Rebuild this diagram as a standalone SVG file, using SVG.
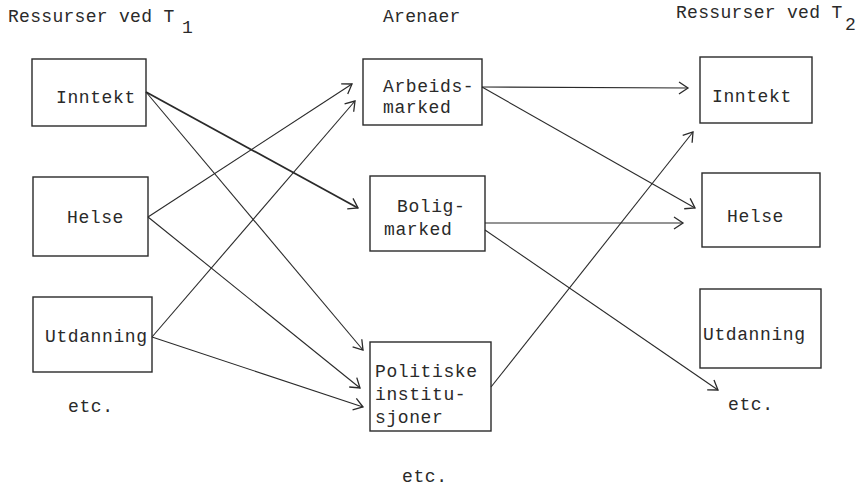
<svg xmlns="http://www.w3.org/2000/svg" width="857" height="486" viewBox="0 0 857 486">
<defs>
<style>
text{font-family:"Liberation Mono","DejaVu Sans Mono",monospace;font-size:18px;fill:#2a2a2a;letter-spacing:0.6px}
.hd{letter-spacing:0.3px}
.box{fill:none;stroke:#2a2a2a;stroke-width:1.4}
.c{fill:none;stroke:#2a2a2a;stroke-width:1.1}
.thick{stroke-width:1.8}
</style>
<marker id="ah" markerUnits="userSpaceOnUse" markerWidth="14" markerHeight="14" refX="0" refY="0" viewBox="-12 -7 14 14" orient="auto" overflow="visible">
<path d="M-9,-6 Q-3,-2 0,0 Q-3,2 -9,6" fill="none" stroke="#2a2a2a" stroke-width="1.3"/>
</marker>
</defs>
<rect width="857" height="486" fill="#ffffff"/>
<g id="headers">
<text class="hd" x="8" y="22">Ressurser ved T</text>
<text x="182" y="33">1</text>
<text class="hd" x="383" y="22">Arenaer</text>
<text class="hd" x="676" y="18">Ressurser ved T</text>
<text x="845" y="30">2</text>
</g>
<g id="connectors">
<line class="c thick" x1="146" y1="92" x2="358" y2="208" marker-end="url(#ah)"/>
<line class="c" x1="146" y1="92" x2="363" y2="350" marker-end="url(#ah)"/>
<line class="c" x1="148" y1="217" x2="352" y2="84" marker-end="url(#ah)"/>
<line class="c" x1="148" y1="217" x2="360" y2="388" marker-end="url(#ah)"/>
<line class="c" x1="152" y1="337" x2="355" y2="101" marker-end="url(#ah)"/>
<line class="c" x1="152" y1="337" x2="363" y2="407" marker-end="url(#ah)"/>
<line class="c" x1="482" y1="87" x2="688" y2="88" marker-end="url(#ah)"/>
<line class="c" x1="482" y1="87" x2="695" y2="208" marker-end="url(#ah)"/>
<line class="c" x1="485" y1="223" x2="683" y2="223" marker-end="url(#ah)"/>
<line class="c" x1="485" y1="230" x2="718" y2="390" marker-end="url(#ah)"/>
<line class="c" x1="491" y1="387" x2="693" y2="132" marker-end="url(#ah)"/>
</g>
<g id="l-inntekt">
<rect class="box" x="32" y="59" width="114" height="67"/>
<text x="56" y="103">Inntekt</text>
</g>
<g id="l-helse">
<rect class="box" x="33" y="177" width="115" height="79"/>
<text x="67" y="223">Helse</text>
</g>
<g id="l-utdanning">
<rect class="box" x="33" y="297" width="119" height="75"/>
<text x="45" y="342">Utdanning</text>
</g>
<g id="l-etc">
<text x="68" y="412">etc.</text>
</g>
<g id="arbeidsmarked">
<rect class="box" x="363" y="59" width="119" height="66"/>
<text x="383" y="92">Arbeids-</text>
<text x="383" y="113">marked</text>
</g>
<g id="boligmarked">
<rect class="box" x="370" y="176" width="115" height="75"/>
<text x="397" y="212">Bolig-</text>
<text x="384" y="235">marked</text>
</g>
<g id="politiske">
<rect class="box" x="370" y="342" width="121" height="89"/>
<text x="375" y="377">Politiske</text>
<text x="375" y="400">institu-</text>
<text x="375" y="423">sjoner</text>
</g>
<g id="m-etc">
<text x="402" y="482">etc.</text>
</g>
<g id="r-inntekt">
<rect class="box" x="700" y="57" width="112" height="66"/>
<text x="712" y="102">Inntekt</text>
</g>
<g id="r-helse">
<rect class="box" x="702" y="173" width="118" height="74"/>
<text x="727" y="222">Helse</text>
</g>
<g id="r-utdanning">
<rect class="box" x="700" y="289" width="121" height="79"/>
<text x="703" y="340">Utdanning</text>
</g>
<g id="r-etc">
<text x="728" y="410">etc.</text>
</g>
</svg>
